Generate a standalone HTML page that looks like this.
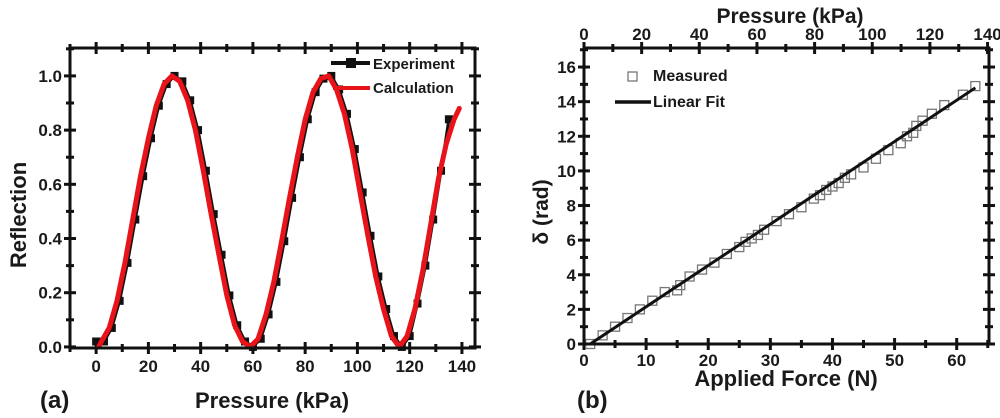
<!DOCTYPE html>
<html><head><meta charset="utf-8"><style>
html,body{margin:0;padding:0;background:#fff;width:1000px;height:418px;overflow:hidden}
svg text{font-family:"Liberation Sans",sans-serif;font-weight:bold;fill:#1a1a1a}
</style></head><body>
<svg id="c" width="1000" height="418" viewBox="0 0 1000 418" xmlns="http://www.w3.org/2000/svg"></svg>
<script>
// Panel (a) data
const expX=[0,3,6,9,12,15,18,21,24,27,30,33,36,39,42,45,48,51,54,57,60,63,66,69,72,75,78,81,84,87,90,93,96,99,102,105,108,111,114,117,120,123,126,129,132,135];
const expY=[0.02,0.02,0.07,0.17,0.31,0.47,0.63,0.77,0.89,0.97,1.0,0.98,0.91,0.80,0.65,0.49,0.34,0.19,0.08,0.02,0.0,0.03,0.12,0.24,0.39,0.55,0.70,0.84,0.94,0.99,1.0,0.95,0.86,0.73,0.57,0.41,0.26,0.14,0.04,0.0,0.04,0.16,0.30,0.47,0.65,0.84];
const calcX=[1,2,5,8,11,14,17,20,23,26,29,32,35,38,41,44,47,50,53,56,59,62,65,68,71,74,77,80,83,86,89,92,95,98,101,104,107,110,113,116,119,122,125,128,131,134,137,139];
const calcY=[0.0,0.02,0.07,0.17,0.31,0.47,0.63,0.77,0.89,0.97,1.0,0.98,0.91,0.80,0.65,0.49,0.34,0.19,0.08,0.02,0.0,0.03,0.12,0.24,0.39,0.55,0.70,0.84,0.94,0.99,1.0,0.95,0.86,0.73,0.57,0.41,0.26,0.14,0.04,0.0,0.04,0.14,0.28,0.45,0.62,0.75,0.84,0.88];
const aXTicks=[0,20,40,60,80,100,120,140];
const aYTicks=[0.0,0.2,0.4,0.6,0.8,1.0];
// Panel (b) data
const measF=[1,3,5,7,9,11,13,15,15.5,17,19,21,23,25,26,27,28,29,31,33,35,37,38,39,40,41,42,43,45,47,49,51,52,53,53.5,54.5,56,58,61,63];
const measD=[0,0.5,1.0,1.5,2.0,2.5,3.0,3.1,3.4,3.9,4.3,4.7,5.2,5.6,5.9,6.1,6.3,6.6,7.1,7.5,7.9,8.4,8.6,8.9,9.1,9.3,9.6,9.8,10.2,10.7,11.2,11.6,12.0,12.2,12.6,12.9,13.3,13.8,14.4,14.9];
const fitF=[1,63];
const fitD=[0,14.8];
const bXTicks=[0,10,20,30,40,50,60];
const bTopTicks=[0,20,40,60,80,100,120,140];
const bYTicks=[0,2,4,6,8,10,12,14,16];

const NS="http://www.w3.org/2000/svg";
const svg=document.getElementById('c');
function mk(tag,attrs,parent,txt){const e=document.createElementNS(NS,tag);for(const k in attrs)e.setAttribute(k,attrs[k]);if(txt!==undefined)e.textContent=txt;(parent||svg).appendChild(e);return e;}

// ---- Panel A ----
const A={l:70,r:475,t:48,b:348,x0:-10,x1:145,y0:-0.004,y1:1.103};
const ax=v=>A.l+(v-A.x0)/(A.x1-A.x0)*(A.r-A.l);
const ay=v=>A.b-(v-A.y0)/(A.y1-A.y0)*(A.b-A.t);
const gA=mk('g',{});


for(let v=-10;v<=140;v+=10){const x=ax(v);const L=v%20===0?6:4;
 mk('line',{x1:x,y1:A.b-L,x2:x,y2:A.b+L,stroke:'#111','stroke-width':3},gA);
 mk('line',{x1:x,y1:A.t-L,x2:x,y2:A.t+L,stroke:'#111','stroke-width':3},gA);}
for(let i=0;i<=11;i++){const v=i*0.1;const y=ay(v);const L=i%2===0?6:4;
 mk('line',{x1:A.l-L,y1:y,x2:A.l+L,y2:y,stroke:'#111','stroke-width':3},gA);
 mk('line',{x1:A.r-L,y1:y,x2:A.r+L,y2:y,stroke:'#111','stroke-width':3},gA);}
aXTicks.forEach(v=>{const t=mk('text',{x:ax(v),y:372,'text-anchor':'middle','font-size':17},gA,String(v));});
aYTicks.forEach(v=>{const t=mk('text',{x:62,y:ay(v)+6,'text-anchor':'end','font-size':17},gA,v.toFixed(1));});
let d='';expX.forEach((x,i)=>d+=(i?'L':'M')+ax(x).toFixed(1)+','+ay(expY[i]).toFixed(1));
const el=mk('path',{d:d,fill:'none',stroke:'#111','stroke-width':3},gA);

expX.forEach((x,i)=>{const r=mk('rect',{x:ax(x)-4,y:ay(expY[i])-4,width:8,height:8,fill:'#111'},gA);
 });
d='';calcX.forEach((x,i)=>d+=(i?'L':'M')+ax(x).toFixed(1)+','+ay(calcY[i]).toFixed(1));
const cl=mk('path',{d:d,fill:'none',stroke:'#e8141a','stroke-width':5,'stroke-linejoin':'round','stroke-linecap':'round'},gA);

mk('rect',{x:A.l,y:A.t,width:A.r-A.l,height:A.b-A.t,fill:'none',stroke:'#111','stroke-width':3},gA);
const lg=mk('g',{},gA);
mk('line',{x1:331,y1:63,x2:370,y2:63,stroke:'#111','stroke-width':4},lg);
mk('rect',{x:346,y:58,width:10,height:10,fill:'#111'},lg);
mk('text',{x:373,y:69,'font-size':15},lg,'Experiment');
mk('line',{x1:333,y1:88,x2:370,y2:88,stroke:'#e8141a','stroke-width':4},lg);
mk('text',{x:373,y:93,'font-size':15},lg,'Calculation');
let t=mk('text',{x:0,y:0,'font-size':22,transform:'translate(26,215) rotate(-90)','text-anchor':'middle'},gA,'Reflection');

t=mk('text',{x:272,y:408,'font-size':22,'text-anchor':'middle'},gA,'Pressure (kPa)');

t=mk('text',{x:40,y:408,'font-size':24},gA,'(a)');


// ---- Panel B ----
const B={l:584,r:989,t:48,b:344,x0:0,x1:65.2,y0:0,y1:17.1};
const bx=v=>B.l+(v-B.x0)/(B.x1-B.x0)*(B.r-B.l);
const by=v=>B.b-(v-B.y0)/(B.y1-B.y0)*(B.b-B.t);
const px=v=>B.l+v/140.5*(B.r-B.l);
const gB=mk('g',{});


for(let v=0;v<=65;v+=5){const x=bx(v);const L=v%10===0?6:4;mk('line',{x1:x,y1:B.b-L,x2:x,y2:B.b+L,stroke:'#111','stroke-width':3},gB);}
for(let v=0;v<=140;v+=10){const x=px(v);const L=v%20===0?6:4;mk('line',{x1:x,y1:B.t-L,x2:x,y2:B.t+L,stroke:'#111','stroke-width':3},gB);}
for(let v=0;v<=17;v++){const y=by(v);const L=v%2===0?6:4;
 mk('line',{x1:B.l-L,y1:y,x2:B.l+L,y2:y,stroke:'#111','stroke-width':3},gB);
 mk('line',{x1:B.r-L,y1:y,x2:B.r+L,y2:y,stroke:'#111','stroke-width':3},gB);}
bXTicks.forEach(v=>{const t=mk('text',{x:bx(v),y:366,'text-anchor':'middle','font-size':17},gB,String(v));});
bTopTicks.forEach(v=>{const t=mk('text',{x:px(v),y:40,'text-anchor':'middle','font-size':17},gB,String(v));});
bYTicks.forEach(v=>{const t=mk('text',{x:576,y:by(v)+6,'text-anchor':'end','font-size':17},gB,String(v));});
measF.forEach((f,i)=>{const r=mk('rect',{x:bx(f)-4.5,y:by(measD[i])-4.5,width:9,height:9,fill:'none',stroke:'#777','stroke-width':1.3},gB);
 });
const fl=mk('line',{x1:bx(fitF[0]),y1:by(fitD[0]),x2:bx(fitF[1]),y2:by(fitD[1]),stroke:'#111','stroke-width':3},gB);

mk('rect',{x:B.l,y:B.t,width:B.r-B.l,height:B.b-B.t,fill:'none',stroke:'#111','stroke-width':3},gB);
const lg2=mk('g',{},gB);
mk('rect',{x:628,y:72,width:9,height:9,fill:'none',stroke:'#777','stroke-width':1.3},lg2);
mk('text',{x:653,y:81,'font-size':16},lg2,'Measured');
mk('line',{x1:615,y1:102,x2:651,y2:102,stroke:'#111','stroke-width':3.5},lg2);
mk('text',{x:653,y:107,'font-size':16},lg2,'Linear Fit');
t=mk('text',{x:0,y:0,'font-size':21,transform:'translate(548,212) rotate(-90)','text-anchor':'middle'},gB,'δ (rad)');

t=mk('text',{x:786,y:386,'font-size':22,'text-anchor':'middle'},gB,'Applied Force (N)');

t=mk('text',{x:790,y:23,'font-size':21,'text-anchor':'middle'},gB,'Pressure (kPa)');

t=mk('text',{x:577,y:408,'font-size':24},gB,'(b)');

</script>
</body></html>
